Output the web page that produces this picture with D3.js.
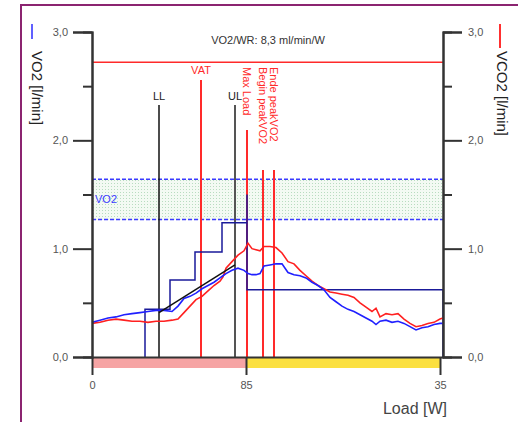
<!DOCTYPE html>
<html>
<head>
<meta charset="utf-8">
<title>VO2 / VCO2</title>
<script src="https://d3js.org/d3.v7.min.js"></script>
<style>
  body { margin: 0; background: #fff; }
  text { font-family: "Liberation Sans", Arial, sans-serif; }
</style>
</head>
<body>
<div id="chart"></div>
<script>
// time axis in seconds, values in l/min
var sampleTimes = [0, 8, 16, 24, 32, 40, 48, 56, 64, 72, 80, 86, 92, 98, 104, 110, 116, 122, 128, 131, 134, 140, 146, 152, 156, 160, 164, 168, 172, 178, 184, 190, 196, 202, 208, 214, 220, 226, 232, 238, 244, 250, 256, 262, 268, 274, 280, 284, 288, 294, 300, 306, 312, 318, 324, 330, 336, 342, 348, 351];
var vo2Values = [0.32, 0.34, 0.36, 0.37, 0.39, 0.40, 0.41, 0.42, 0.43, 0.43, 0.42, 0.47, 0.54, 0.56, 0.59, 0.63, 0.66, 0.69, 0.73, 0.75, 0.77, 0.80, 0.82, 0.80, 0.77, 0.76, 0.76, 0.77, 0.84, 0.85, 0.86, 0.86, 0.78, 0.76, 0.75, 0.73, 0.69, 0.66, 0.62, 0.55, 0.51, 0.47, 0.44, 0.42, 0.39, 0.36, 0.33, 0.30, 0.33, 0.34, 0.32, 0.33, 0.31, 0.28, 0.25, 0.27, 0.28, 0.30, 0.31, 0.31];
var vco2Values = [0.31, 0.32, 0.34, 0.35, 0.34, 0.33, 0.33, 0.32, 0.33, 0.33, 0.34, 0.35, 0.41, 0.47, 0.53, 0.56, 0.61, 0.66, 0.70, 0.74, 0.82, 0.88, 0.94, 0.98, 1.05, 1.00, 0.99, 0.98, 1.02, 1.02, 1.01, 0.96, 0.88, 0.86, 0.80, 0.75, 0.70, 0.66, 0.63, 0.60, 0.59, 0.58, 0.57, 0.55, 0.50, 0.46, 0.42, 0.45, 0.37, 0.40, 0.39, 0.40, 0.35, 0.31, 0.28, 0.29, 0.31, 0.32, 0.35, 0.36];

// load steps (predicted VO2 per stage), last one is the recovery level
var stepTimes = [53, 78, 103, 130, 155, 155];
var stepValues = [0.44, 0.71, 0.97, 1.24, 1.50, 0.62];
var stepEnd = 351;

var vo2Band = [1.27, 1.64];
var vco2MaxLine = 2.72;
var slopeLine = [[67, 0.41], [143, 0.85]];

var markerNames = ["LL", "VAT", "UL", "Max Load", "Begin peakVO2", "Ende peakVO2"];
var markerTimes = [67, 109, 143, 155, 171, 182];

var xTickTimes = [0, 154, 348];
var xTickLabels = ["0", "85", "35"];
var phaseEnds = [0, 154, 348];

var W = 518, H = 422;
var svg = d3.select("#chart").append("svg").attr("width", W).attr("height", H);

var x = d3.scaleLinear().domain([0, 351]).range([92, 443]);
var y = d3.scaleLinear().domain([0, 3]).range([357, 32]);
var fmt = function(d) { return d3.format(".1f")(d).replace(".", ","); };

// frame
svg.append("rect").attr("x", 21).attr("y", 5).attr("width", 520).attr("height", 440)
  .attr("fill", "none").attr("stroke", "#8b2470").attr("stroke-width", 2);

// dotted band pattern
var defs = svg.append("defs");
var pat = defs.append("pattern").attr("id", "dots").attr("width", 3).attr("height", 3)
  .attr("patternUnits", "userSpaceOnUse");
pat.append("rect").attr("width", 3).attr("height", 3).attr("fill", "#f3faf3");
pat.append("rect").attr("width", 1).attr("height", 1).attr("fill", "#b8dcc0");

svg.append("rect").attr("x", x(0)).attr("width", x(351) - x(0))
  .attr("y", y(vo2Band[1])).attr("height", y(vo2Band[0]) - y(vo2Band[1]))
  .attr("fill", "url(#dots)");
vo2Band.forEach(function(v) {
  svg.append("line").attr("x1", x(0)).attr("x2", x(351)).attr("y1", y(v)).attr("y2", y(v))
    .attr("stroke", "#3a3aff").attr("stroke-width", 1.5).attr("stroke-dasharray", "4,2");
});
svg.append("text").attr("x", x(0) + 3).attr("y", y((vo2Band[0] + vo2Band[1]) / 2) + 4)
  .attr("font-size", 11).attr("fill", "#3a3aff").text("VO2");

// phase bars
svg.append("rect").attr("x", x(phaseEnds[0])).attr("width", x(phaseEnds[1]) - x(phaseEnds[0]))
  .attr("y", 358).attr("height", 10).attr("fill", "#f6a4a4");
svg.append("rect").attr("x", x(phaseEnds[1])).attr("width", x(phaseEnds[2]) - x(phaseEnds[1]))
  .attr("y", 358).attr("height", 10).attr("fill", "#fbe041");

// red horizontal line
svg.append("line").attr("x1", x(0)).attr("x2", x(351)).attr("y1", y(vco2MaxLine)).attr("y2", y(vco2MaxLine))
  .attr("stroke", "#ff2a2a").attr("stroke-width", 1.5);

// markers
var markerTop = { "LL": 105, "VAT": 80, "UL": 105, "Max Load": 130, "Begin peakVO2": 170, "Ende peakVO2": 170 };
var markerColor = { "LL": "#111", "VAT": "#ff2a2a", "UL": "#555", "Max Load": "#ff2a2a", "Begin peakVO2": "#ff2a2a", "Ende peakVO2": "#ff2a2a" };
markerNames.forEach(function(n, i) {
  var mx = x(markerTimes[i]);
  svg.append("line").attr("x1", mx).attr("x2", mx).attr("y1", markerTop[n]).attr("y2", y(0))
    .attr("stroke", markerColor[n]).attr("stroke-width", n === "LL" ? 1.5 : 2);
  if (i < 3) {
    svg.append("text").attr("x", mx).attr("y", n === "VAT" ? 74 : 100)
      .attr("text-anchor", "middle").attr("font-size", 11)
      .attr("fill", n === "VAT" ? "#ff2a2a" : "#222").text(n);
  } else {
    svg.append("text").attr("transform", "translate(" + mx + ",67) rotate(90)")
      .attr("dy", "0.35em").attr("font-size", 11).attr("fill", "#ff2a2a").text(n);
  }
});

// step line
var stepPts = [[stepTimes[0], 0]];
stepTimes.forEach(function(t, i) {
  if (i > 0) stepPts.push([t, stepValues[i - 1]]);
  stepPts.push([t, stepValues[i]]);
});
stepPts.push([stepEnd, stepValues[stepValues.length - 1]]);
stepPts.push([stepEnd, 0]);

var line = d3.line().x(function(d) { return x(d[0]); }).y(function(d) { return y(d[1]); });
svg.append("path").attr("d", line(stepPts))
  .attr("fill", "none").attr("stroke", "#1a1a9a").attr("stroke-width", 1.5);

// curves
svg.append("path").attr("d", line(sampleTimes.map(function(t, i) { return [t, vco2Values[i]]; })))
  .attr("fill", "none").attr("stroke", "#ff2020").attr("stroke-width", 1.6);
svg.append("path").attr("d", line(sampleTimes.map(function(t, i) { return [t, vo2Values[i]]; })))
  .attr("fill", "none").attr("stroke", "#2020ff").attr("stroke-width", 1.6);

svg.append("path").attr("d", line(slopeLine)).attr("stroke", "#111").attr("stroke-width", 1.5);

// axes
function styleAxis(g) {
  g.selectAll("path, line").attr("stroke", "#333").attr("stroke-width", 2);
  g.selectAll("text").attr("fill", "#555").attr("font-size", 11)
    .attr("font-family", "Liberation Sans, Arial, sans-serif");
}
var minorTicks = [0.5, 1.5, 2.5];

svg.append("g").attr("transform", "translate(" + x(0) + ",0)")
  .call(d3.axisLeft(y).tickValues(minorTicks).tickSize(9).tickFormat("")).call(styleAxis);
svg.append("g").attr("transform", "translate(" + x(0) + ",0)")
  .call(d3.axisLeft(y).tickValues([0, 1, 2, 3]).tickSize(19).tickPadding(5).tickFormat(fmt)).call(styleAxis);

svg.append("g").attr("transform", "translate(" + x(351) + ",0)")
  .call(d3.axisRight(y).tickValues(minorTicks).tickSize(9).tickFormat("")).call(styleAxis);
svg.append("g").attr("transform", "translate(" + x(351) + ",0)")
  .call(d3.axisRight(y).tickValues([0, 1, 2, 3]).tickSize(19).tickPadding(6).tickFormat(fmt)).call(styleAxis);

svg.append("g").attr("transform", "translate(0," + y(0) + ")")
  .call(d3.axisBottom(x).tickValues(xTickTimes).tickSize(18).tickSizeOuter(0).tickPadding(6)
    .tickFormat(function(d, i) { return xTickLabels[i]; }))
  .call(styleAxis);

// titles
svg.append("text").attr("x", 268).attr("y", 44).attr("text-anchor", "middle")
  .attr("font-size", 11).attr("fill", "#333").text("VO2/WR: 8,3 ml/min/W");
svg.append("text").attr("x", 447).attr("y", 414).attr("text-anchor", "end")
  .attr("font-size", 16).attr("fill", "#444").text("Load [W]");

svg.append("line").attr("x1", 32).attr("x2", 32).attr("y1", 24).attr("y2", 39)
  .attr("stroke", "#6060ff").attr("stroke-width", 2);
svg.append("text").attr("transform", "translate(37,51) rotate(90)").attr("dy", "0.35em")
  .attr("font-size", 15).attr("fill", "#222").text("VO2 [l/min]");

svg.append("line").attr("x1", 500).attr("x2", 500).attr("y1", 24).attr("y2", 48)
  .attr("stroke", "#ff3030").attr("stroke-width", 2);
svg.append("text").attr("transform", "translate(502,51) rotate(90)").attr("dy", "0.35em")
  .attr("font-size", 15).attr("fill", "#222").text("VCO2 [l/min]");
</script>
</body>
</html>
